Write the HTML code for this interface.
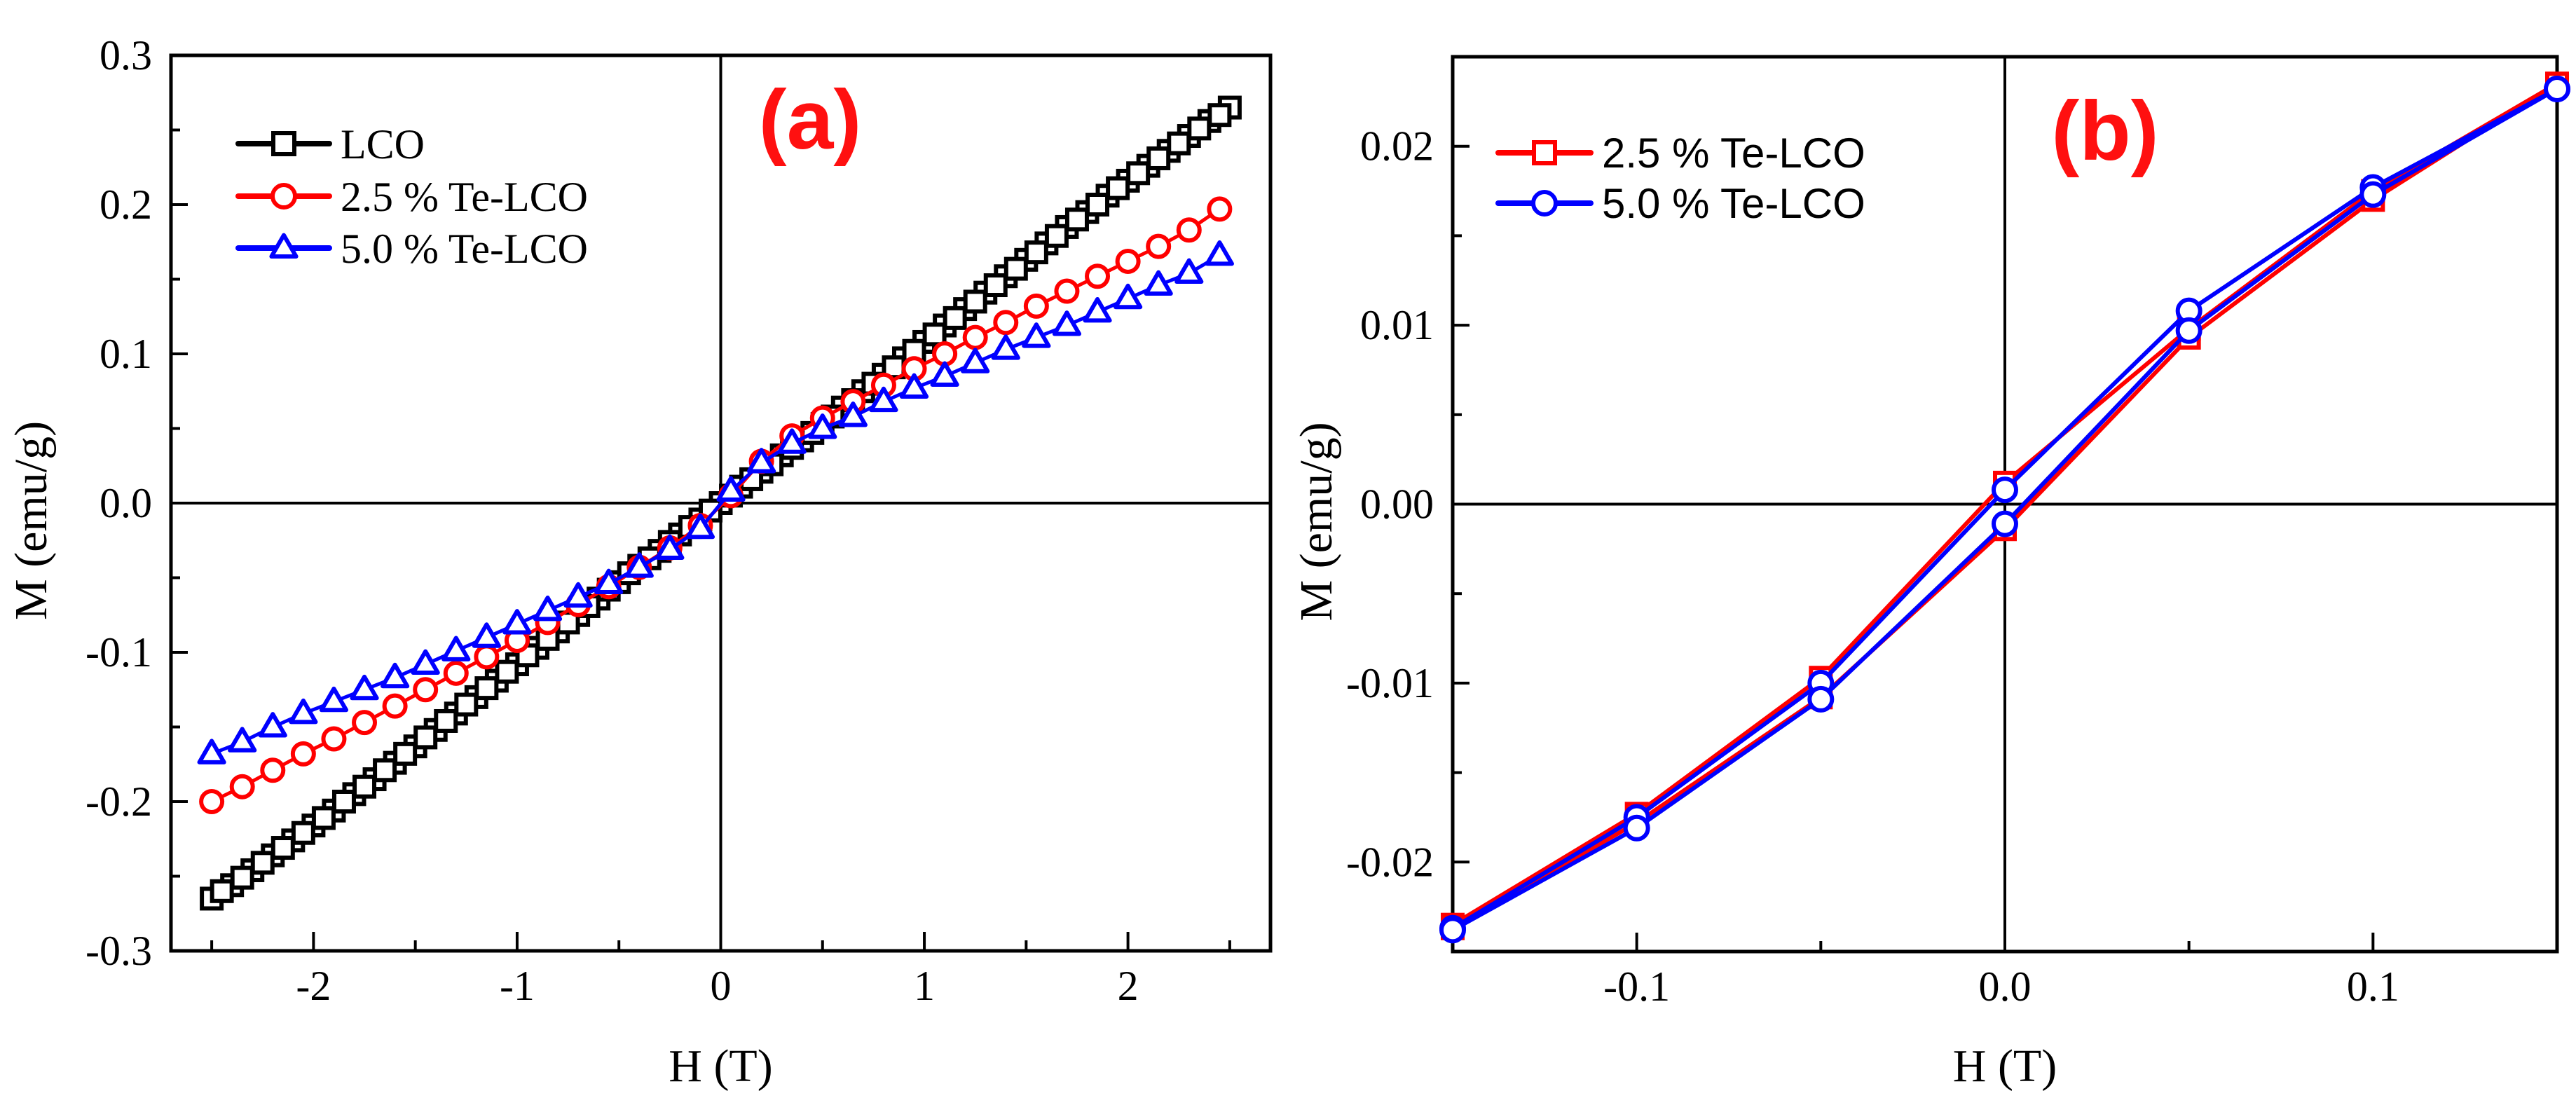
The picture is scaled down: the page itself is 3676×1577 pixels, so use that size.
<!DOCTYPE html>
<html><head><meta charset="utf-8"><style>
html,body{margin:0;padding:0;background:#fff;}
svg{display:block;}
</style></head><body>
<svg id="fig" width="3676" height="1577" viewBox="0 0 3676 1577" xmlns="http://www.w3.org/2000/svg">
<rect x="0" y="0" width="3676" height="1577" fill="#fff"/>
<g id="pa"></g>
<g id="pb"></g>
</svg>
<script>
// Panel (a) data
const aLcoH = [-2.5,-2.4,-2.3,-2.2,-2.1,-2.0,-1.9,-1.8,-1.7,-1.6,-1.5,-1.4,-1.3,-1.2,-1.1,-1.0,-0.9,-0.8,-0.7,-0.6,-0.5,-0.4,-0.3,-0.2,-0.1,0.0,0.1,0.2,0.3,0.4,0.5,0.6,0.7,0.8,0.9,1.0,1.1,1.2,1.3,1.4,1.5,1.6,1.7,1.8,1.9,2.0,2.1,2.2,2.3,2.4,2.5];
const aLcoM = [-0.265,-0.256,-0.246,-0.236,-0.226,-0.216,-0.206,-0.195,-0.185,-0.174,-0.163,-0.152,-0.141,-0.130,-0.119,-0.108,-0.097,-0.086,-0.075,-0.064,-0.053,-0.042,-0.032,-0.021,-0.011,0.000,0.011,0.021,0.032,0.042,0.053,0.064,0.075,0.086,0.097,0.108,0.119,0.130,0.141,0.152,0.163,0.174,0.185,0.195,0.206,0.216,0.226,0.236,0.246,0.256,0.265];
const aLcoH2 = [-2.45,-2.35,-2.25,-2.15,-2.05,-1.95,-1.85,-1.75,-1.65,-1.55,-1.45,-1.35,-1.25,-1.15,-1.05,-0.95,-0.85,-0.75,-0.65,-0.55,-0.45,-0.35,-0.25,-0.15,-0.05,0.05,0.15,0.25,0.35,0.45,0.55,0.65,0.75,0.85,0.95,1.05,1.15,1.25,1.35,1.45,1.55,1.65,1.75,1.85,1.95,2.05,2.15,2.25,2.35,2.45];
const aLcoM2 = [-0.260,-0.251,-0.241,-0.231,-0.221,-0.211,-0.200,-0.190,-0.179,-0.168,-0.157,-0.146,-0.135,-0.124,-0.113,-0.102,-0.091,-0.080,-0.069,-0.058,-0.047,-0.037,-0.026,-0.016,-0.005,0.005,0.016,0.026,0.037,0.047,0.058,0.069,0.080,0.091,0.102,0.113,0.124,0.135,0.146,0.157,0.168,0.179,0.190,0.200,0.211,0.221,0.231,0.241,0.251,0.260];
const aTeH = [-2.5,-2.35,-2.2,-2.05,-1.9,-1.75,-1.6,-1.45,-1.3,-1.15,-1.0,-0.85,-0.7,-0.55,-0.4,-0.25,-0.1,0.05,0.2,0.35,0.5,0.65,0.8,0.95,1.1,1.25,1.4,1.55,1.7,1.85,2.0,2.15,2.3,2.45];
const aTe25M = [-0.200,-0.190,-0.179,-0.168,-0.158,-0.147,-0.136,-0.125,-0.114,-0.103,-0.092,-0.080,-0.068,-0.056,-0.043,-0.030,-0.015,0.005,0.028,0.045,0.057,0.068,0.079,0.090,0.100,0.111,0.121,0.132,0.142,0.152,0.162,0.172,0.183,0.197];
const aTe50M = [-0.168,-0.160,-0.150,-0.141,-0.133,-0.125,-0.117,-0.108,-0.099,-0.090,-0.081,-0.072,-0.063,-0.054,-0.043,-0.031,-0.017,0.008,0.027,0.040,0.050,0.058,0.068,0.077,0.085,0.094,0.103,0.111,0.119,0.128,0.137,0.146,0.154,0.166];
const aXTicks = [-2,-1,0,1,2];
const aXTickLabels = ["-2","-1","0","1","2"];
const aXMinor = [-2.5,-1.5,-0.5,0.5,1.5,2.5];
const aYTicks = [-0.3,-0.2,-0.1,0,0.1,0.2,0.3];
const aYTickLabels = ["-0.3","-0.2","-0.1","0.0","0.1","0.2","0.3"];
const aYMinor = [-0.25,-0.15,-0.05,0.05,0.15,0.25];
// Panel (b) data
const bH = [-0.15,-0.1,-0.05,0.0,0.05,0.1,0.15];
const bTe25A = [-0.0235,-0.0173,-0.0097,0.0012,0.0098,0.0175,0.0235];
const bTe25B = [-0.0237,-0.0178,-0.0108,-0.0014,0.0093,0.0170,0.0235];
const bTe50A = [-0.0237,-0.0175,-0.0100,0.0008,0.0108,0.0177,0.0232];
const bTe50B = [-0.0238,-0.0181,-0.0109,-0.0011,0.0097,0.0173,0.0232];
const bXTicks = [-0.1,0,0.1];
const bXTickLabels = ["-0.1","0.0","0.1"];
const bXMinor = [-0.15,-0.05,0.05,0.15];
const bYTicks = [-0.02,-0.01,0,0.01,0.02];
const bYTickLabels = ["-0.02","-0.01","0.00","0.01","0.02"];
const bYMinor = [-0.025,-0.015,-0.005,0.005,0.015,0.025];

const NS = "http://www.w3.org/2000/svg";
function mk(tag, attrs, parent){
  const e = document.createElementNS(NS, tag);
  for (const k in attrs) e.setAttribute(k, attrs[k]);
  parent.appendChild(e);
  return e;
}
const SERIF = '"Liberation Serif", serif';
const SANS = '"Liberation Sans", sans-serif';

function frame(g, L, R, T, B, xs, ys, o){
  o.xTicks.forEach((v,i)=>{
    const x = xs(v);
    const t = mk('line',{x1:x,x2:x,y1:B,y2:B-27,stroke:'#000','stroke-width':4},g);
    
    
    const lb = mk('text',{x:x,y:B+70,'font-family':SERIF,'font-size':60,'text-anchor':'middle',fill:'#000'},g);
    lb.textContent = o.xLabels[i];
    
    
  });
  o.xMinor.forEach(v=>{
    const x = xs(v);
    const t = mk('line',{x1:x,x2:x,y1:B,y2:B-15,stroke:'#000','stroke-width':4},g);
    
    
  });
  o.yTicks.forEach((v,i)=>{
    const y = ys(v);
    const t = mk('line',{x1:L,x2:L+24,y1:y,y2:y,stroke:'#000','stroke-width':4},g);
    
    
    const lb = mk('text',{x:L-27,y:y+20,'font-family':SERIF,'font-size':60,'text-anchor':'end',fill:'#000'},g);
    lb.textContent = o.yLabels[i];
    
    
  });
  o.yMinor.forEach(v=>{
    const y = ys(v);
    const t = mk('line',{x1:L,x2:L+13,y1:y,y2:y,stroke:'#000','stroke-width':4},g);
    
    
  });
  const zx = mk('line',{x1:xs(0),x2:xs(0),y1:T,y2:B,stroke:'#000','stroke-width':4},g);
  
  
  const zy = mk('line',{x1:L,x2:R,y1:ys(0),y2:ys(0),stroke:'#000','stroke-width':4},g);
  
  
  const box = mk('rect',{x:L,y:T,width:R-L,height:B-T,fill:'none',stroke:'#000','stroke-width':5},g);
  
  
  const xt = mk('text',{x:(L+R)/2,y:1543,'font-family':SERIF,'font-size':66,'text-anchor':'middle',fill:'#000'},g);
  xt.textContent = 'H (T)';
  
  
  const yt = mk('text',{x:0,y:0,'font-family':SERIF,'font-size':66,'text-anchor':'middle',fill:'#000',transform:`translate(${o.yTitleX},${(T+B)/2+25}) rotate(-90)`},g);
  yt.textContent = 'M (emu/g)';
  
  
}

function marker(g, shape, x, y, color, s){
  let m;
  if (shape==='square') m = mk('rect',{x:x-s,y:y-s,width:2*s,height:2*s,fill:'#fff',stroke:color,'stroke-width':6},g);
  else if (shape==='circle') m = mk('circle',{cx:x,cy:y,r:s,fill:'#fff',stroke:color,'stroke-width':6},g);
  else m = mk('polygon',{points:`${x},${y-s*1.15} ${x-s*1.1},${y+s*0.75} ${x+s*1.1},${y+s*0.75}`,fill:'#fff',stroke:color,'stroke-width':6,'stroke-linejoin':'round'},g);
  return m;
}

function series(g, name, hs, ms, xs, ys, color, shape, s, lineW){
  const sg = mk('g',{},g);
  
  
  const pts = hs.map((h,i)=>xs(h)+','+ys(ms[i])).join(' ');
  const pl = mk('polyline',{points:pts,fill:'none',stroke:color,'stroke-width':lineW,'stroke-linejoin':'round'},sg);
  
  
  hs.forEach((h,i)=>{
    const m = marker(sg, shape, xs(h), ys(ms[i]), color, s);
    
    
  });
}

function legendEntry(g, name, x1, x2, y, color, shape, s, label, font, fs){
  const lg = mk('g',{},g);
  
  
  const l = mk('line',{x1:x1,x2:x2,y1:y,y2:y,stroke:color,'stroke-width':8,'stroke-linecap':'round'},lg);
  
  
  const m = marker(lg, shape, (x1+x2)/2, y, color, s);
  
  
  const t = mk('text',{x:x2+16,y:y+21,'font-family':font,'font-size':fs,fill:'#000'},lg);
  t.textContent = label;
  
  
}

// ---- Panel a ----
(function(){
  const g = document.getElementById('pa');
  const L=244, R=1813, T=79, B=1357;
  const xs = v => L + (v+2.7)/5.4*(R-L);
  const ys = v => B - (v+0.3)/0.6*(B-T);
  frame(g,L,R,T,B,xs,ys,{xTicks:aXTicks,xLabels:aXTickLabels,xMinor:aXMinor,yTicks:aYTicks,yLabels:aYTickLabels,yMinor:aYMinor,yTitleX:66});
  series(g,'series-lco',aLcoH,aLcoM,xs,ys,'#000','square',14,5);
  series(g,'series-lco-return',aLcoH2,aLcoM2,xs,ys,'#000','square',14,5);
  series(g,'series-te-2-5',aTeH,aTe25M,xs,ys,'#ff0000','circle',15,5);
  series(g,'series-te-5-0',aTeH,aTe50M,xs,ys,'#0000ff','triangle',16,5);
  const lg = mk('g',{},g);
  
  
  legendEntry(lg,'lco',340,470,205,'#000','square',15,'LCO',SERIF,60);
  legendEntry(lg,'te25',340,470,280,'#ff0000','circle',16,'2.5 % Te-LCO',SERIF,60);
  legendEntry(lg,'te50',340,470,354,'#0000ff','triangle',16,'5.0 % Te-LCO',SERIF,60);
  const pl = mk('text',{x:1156,y:212,'font-family':SANS,'font-weight':'bold','font-size':120,'text-anchor':'middle',fill:'#ff1010'},g);
  pl.textContent = '(a)';
  
  
})();

// ---- Panel b ----
(function(){
  const g = document.getElementById('pb');
  const L=2073, R=3649, T=81, B=1358;
  const xs = v => L + (v+0.15)/0.30*(R-L);
  const ys = v => B - (v+0.025)/0.05*(B-T);
  frame(g,L,R,T,B,xs,ys,{xTicks:bXTicks,xLabels:bXTickLabels,xMinor:bXMinor,yTicks:bYTicks,yLabels:bYTickLabels,yMinor:bYMinor,yTitleX:1900});
  series(g,'series-te-2-5-branch-a',bH,bTe25A,xs,ys,'#ff0000','square',14,6);
  series(g,'series-te-2-5-branch-b',bH,bTe25B,xs,ys,'#ff0000','square',14,6);
  series(g,'series-te-5-0-branch-a',bH,bTe50A,xs,ys,'#0000ff','circle',16,6);
  series(g,'series-te-5-0-branch-b',bH,bTe50B,xs,ys,'#0000ff','circle',16,6);
  const lg = mk('g',{},g);
  
  
  legendEntry(lg,'te25',2138,2270,218,'#ff0000','square',15,'2.5 % Te-LCO',SANS,60);
  legendEntry(lg,'te50',2138,2270,290,'#0000ff','circle',16,'5.0 % Te-LCO',SANS,60);
  const pl = mk('text',{x:3004,y:228,'font-family':SANS,'font-weight':'bold','font-size':120,'text-anchor':'middle',fill:'#ff1010'},g);
  pl.textContent = '(b)';
  
  
})();
</script>
</body></html>
